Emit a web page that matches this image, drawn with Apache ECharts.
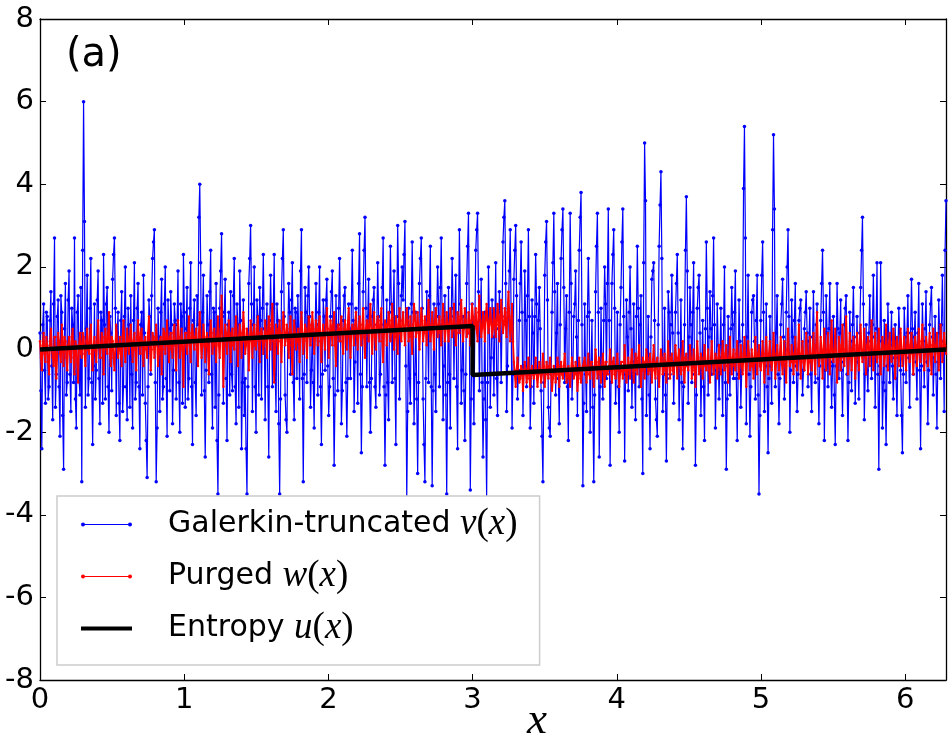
<!DOCTYPE html>
<html><head><meta charset="utf-8">
<script src="https://cdn.jsdelivr.net/npm/echarts/dist/echarts.min.js"></script>
<style>html,body{margin:0;padding:0;background:#fff}#c{width:951px;height:738px}</style>
</head><body><div id="c"></div>
<script>
const X_MAX = 6.2832;
const xTicks = [0, 1, 2, 3, 4, 5, 6];
const yTicks = [-8, -6, -4, -2, 0, 2, 4, 6, 8];

// Galerkin-truncated v(x) on an even grid over [0, 2pi]
const galerkinV = [
 0.4,-2.4,1.1,-1.3,0.8,-0.9,1.4,-1.7,2.7,-0.6,1.2,-2.1,0.9,-2.9,1.6,-0.8,1.9,-1.5,0.6,2.7,-1.9,1.3,-1.1,-3.2,6.0,
 -1.4,1.8,-0.7,2.2,-2.3,1.1,-0.5,1.9,-1.8,0.7,2.3,-1.2,1.5,-2.0,0.4,1.7,2.7,-1.6,0.9,-2.2,1.4,-0.9,2.0,-1.7,0.6,
 1.3,-1.9,2.1,-0.8,1.6,-2.4,0.9,1.8,-1.3,-3.1,1.2,-0.6,2.2,2.9,-3.2,1.0,-1.5,1.7,-0.9,2.0,-2.1,0.5,1.4,-1.8,1.1,
 -1.2,1.9,-2.0,0.8,2.3,-1.4,1.5,-0.7,2.1,-2.3,1.2,-1.6,0.6,4.0,-1.1,1.8,-2.6,1.3,-0.8,2.4,-1.9,0.9,1.6,-3.5,1.0,
 2.8,-1.3,1.7,-2.2,0.9,1.4,-1.0,2.2,-1.8,0.6,1.9,-2.4,1.2,-0.7,-3.5,1.6,3.0,-1.5,2.0,-2.0,0.8,1.5,-1.2,2.3,-1.7,
 1.1,-2.6,1.8,-0.9,2.3,-1.5,0.7,-3.5,1.4,2.9,-1.1,-2.0,1.6,-0.6,2.1,-1.7,0.9,1.3,-1.2,2.9,-3.2,1.5,-0.8,2.0,-1.4,
 0.6,-1.9,1.6,-1.1,2.0,-2.3,1.2,-0.5,1.7,-1.6,0.8,1.9,-2.8,1.3,-1.0,2.2,-1.8,0.7,1.5,-2.1,1.1,-0.7,2.4,-1.5,1.0,
 -1.3,2.8,-2.5,1.4,3.2,-0.9,1.7,-2.0,0.8,1.5,-1.4,2.1,-1.1,0.6,2.7,-2.8,1.2,-1.7,2.5,-0.8,1.9,-2.3,3.0,-1.2,1.3,
 1.2,3.1,-3.6,1.0,-1.3,2.6,-1.8,0.9,-3.0,1.6,2.7,-1.2,-3.2,1.4,-0.8,2.5,-3.3,1.1,-1.5,2.0,-0.9,2.7,-1.7,1.3,-3.5,
 1.5,-1.9,2.2,-0.7,1.8,-2.4,2.9,-1.3,0.8,-2.2,1.6,3.3,-3.4,1.1,-1.8,2.4,3.3,-1.0,1.7,-2.6,0.9,-3.6,2.0,-1.4,1.2,
 -1.1,2.1,-1.6,1.4,-0.8,2.6,3.6,-1.5,1.0,2.9,-1.9,1.7,3.0,-1.2,0.7,2.6,-1.6,1.9,-0.9,2.9,-1.9,1.2,-1.3,2.3,-0.6,
 1.5,-1.0,-3.2,1.8,3.1,-1.4,-2.1,0.9,3.3,-1.1,1.6,-1.8,2.2,3.4,-0.8,1.3,-2.2,3.3,-1.2,0.8,1.9,-1.6,2.4,3.8,-3.3,
 1.1,-1.5,2.2,-2.0,0.7,-3.2,1.4,3.3,-2.6,1.0,-1.2,2.0,-0.7,3.4,-2.8,1.6,2.9,-1.3,0.9,-2.0,1.5,3.4,-2.7,1.2,-1.0,
 2.0,-1.4,1.1,-1.7,2.5,-0.9,1.3,-3.0,5.0,-1.6,0.8,-2.4,1.7,2.1,-1.2,-2.1,2.5,4.3,-1.5,1.0,-2.7,1.4,-0.6,1.8,-1.3,
 0.9,2.3,-1.7,1.2,-2.4,0.6,3.7,-1.3,1.5,-0.8,2.1,-2.8,1.0,1.8,-1.6,0.7,-2.2,2.6,-1.1,1.4,-0.6,2.7,-1.9,1.1,-1.2,
 1.0,-1.6,2.0,-2.9,0.8,-1.1,1.5,-0.7,1.9,-2.2,1.2,-1.4,0.6,5.4,-1.8,1.8,-2.1,0.9,1.3,-1.2,1.8,-3.5,0.7,2.6,-1.5,
 1.1,-2.5,0.8,-1.3,5.2,-0.9,1.3,-1.8,0.6,1.7,-1.2,0.9,2.9,-2.0,1.2,-0.8,1.6,-1.5,0.7,1.2,-1.1,0.5,1.4,-0.9,1.0,
 -1.5,1.4,-0.8,1.1,-1.8,0.7,2.4,-2.2,1.3,-0.9,1.6,-1.4,0.8,-2.3,1.6,-0.7,1.2,-1.6,0.6,1.3,-2.2,0.9,-1.0,1.5,-1.3,
 0.8,-1.2,1.5,3.2,-1.7,0.6,-1.0,1.3,-0.7,1.8,-1.4,2.1,-2.9,2.1,-1.9,0.7,-2.3,1.1,-0.8,0.9,-1.2,0.6,-1.6,1.0,-0.5,
 -2.5,1.0,-0.8,1.3,-1.4,1.7,-0.6,0.9,-1.2,1.6,-2.4,1.1,-0.9,1.4,-1.8,0.6,1.5,-1.1,0.8,-1.9,1.2,-0.7,1.8,-1.5,3.6
];
// v(x) read at the half-steps between the samples above
const galerkinVMid = [
 -1.0,0.6,-0.5,0.9,-1.2,0.7,-0.4,1.1,-1.4,0.8,-0.9,1.3,-1.6,0.5,-1.1,1.2,-0.6,1.0,-0.8,-1.2,0.9,-0.7,1.5,2.4,3.1,
 0.5,-1.1,1.0,-0.8,-0.4,-1.2,1.2,-0.7,0.9,-1.3,0.6,1.1,-0.9,0.8,-1.0,2.3,1.0,0.4,-1.3,0.7,-1.5,0.8,-0.9,1.0,-1.4,
 -0.6,0.7,-1.2,1.0,-0.9,0.6,-1.1,0.4,-2.2,-0.9,0.8,1.3,2.6,-0.8,-1.9,0.3,0.9,-1.2,1.1,-0.7,1.2,-1.0,0.6,-0.5,0.7,
 0.6,-0.8,1.1,-1.3,0.9,0.5,-1.2,1.0,-0.9,0.7,-0.8,1.3,3.2,2.1,0.9,-1.0,-0.5,0.6,1.4,-0.6,1.0,-1.4,-2.2,-1.1,1.9,
 0.8,0.9,-0.7,0.6,-1.1,-0.6,1.3,-0.9,1.1,-1.4,0.7,-0.8,-1.6,-2.4,-0.9,2.2,1.1,0.6,-0.9,1.2,-1.1,0.7,1.0,0.5,0.4,
 -0.9,0.5,0.7,1.0,-0.6,1.1,-1.8,-1.2,2.2,0.8,-1.7,0.4,0.9,1.2,-0.8,1.0,-0.7,0.4,1.9,-0.7,-0.6,0.9,1.3,0.8,-0.5,
 -0.8,0.4,0.6,0.9,-0.9,-0.6,0.8,1.2,-0.4,-0.9,1.4,-0.7,-1.1,0.3,1.0,0.6,-1.0,1.3,-0.8,-0.7,0.5,1.1,0.7,-0.3,0.4,
 1.6,-0.6,-0.9,2.4,1.0,0.8,-0.8,-0.7,1.2,-0.9,0.6,0.8,-0.6,1.5,-0.9,-1.1,-0.8,0.9,1.1,1.0,-0.7,0.8,1.6,0.5,2.0,
 2.3,-0.4,-1.5,-0.7,1.1,0.9,-0.6,-1.2,-0.8,2.2,1.0,-2.3,-0.7,0.6,1.3,-0.9,-1.0,-0.6,0.8,1.1,1.5,0.6,-0.4,-1.1,-0.8,
 -0.6,0.8,1.0,0.9,-0.9,0.7,1.1,-0.5,-1.0,-0.6,2.5,0.4,-1.2,-0.5,0.6,2.9,1.4,0.7,-0.8,-1.2,-1.7,-0.8,0.7,-0.2,0.3,
 0.6,-0.7,0.5,0.9,0.8,3.2,1.6,-0.4,1.9,0.7,-0.6,2.4,1.3,-0.5,1.6,0.9,-0.4,0.7,1.3,0.8,-0.9,0.4,0.8,1.1,0.7,
 0.5,-2.1,-0.8,2.6,1.2,-1.9,-0.6,2.1,1.4,0.4,-0.7,0.6,2.9,1.5,0.5,-0.9,0.9,1.6,-0.5,1.1,0.3,0.7,3.2,0.6,-1.3,
 -0.6,0.8,0.9,-0.4,-1.4,-1.1,2.5,0.9,-0.9,-0.6,0.7,1.1,1.6,0.7,-0.8,2.3,1.0,-0.5,-0.9,0.6,2.6,0.8,-0.6,0.3,0.9,
 0.5,-0.3,-0.6,0.8,1.0,0.6,-1.2,2.1,3.6,-0.4,-1.1,0.3,1.9,0.7,-1.7,0.6,3.5,2.2,-0.6,-1.1,-0.7,0.9,0.6,0.4,-0.3,
 1.6,0.4,-0.5,-0.8,-0.9,2.4,1.9,0.3,0.6,0.9,-0.6,-1.1,1.5,0.4,-0.5,-0.9,0.5,1.0,0.3,0.5,1.3,0.6,-0.5,0.1,-0.2,
 -0.5,0.6,-0.8,-1.2,-0.3,0.5,0.6,0.9,-0.7,-0.6,0.2,-0.5,3.9,2.7,0.3,-0.6,-0.9,1.2,0.2,0.7,-1.1,-1.6,1.8,0.9,-0.4,
 -0.9,-0.7,-0.4,2.9,3.4,0.4,-0.6,-0.7,1.1,0.3,-0.4,2.0,0.8,-0.5,0.3,0.7,-0.4,-0.6,1.0,-0.2,-0.5,0.9,0.4,0.2,-0.6,
 0.3,-0.2,0.6,-0.7,-0.4,1.6,0.9,-0.5,0.4,0.5,-0.3,-0.4,-1.1,-0.4,0.5,0.4,-0.5,-0.3,1.0,-0.6,-0.8,0.2,0.6,0.3,-0.2,
 -0.3,0.4,2.4,1.1,-0.6,-0.5,0.4,0.2,0.6,0.3,0.5,-0.6,-0.4,0.2,-0.8,-1.0,-0.4,0.3,0.1,-0.4,-0.2,-0.7,-0.2,0.4,-1.6,
 -0.6,0.3,0.4,-0.2,0.4,0.5,0.3,-0.3,0.4,-0.5,-0.4,0.2,0.5,-0.3,-0.5,1.1,0.3,-0.2,-0.6,-0.3,0.4,0.6,0.2,2.4
];

// Purged w(x), same grid
const purgedW = [
 0.2,-0.5,0.4,-0.3,0.1,-0.6,0.5,-0.2,0.3,-0.7,0.4,-0.1,0.6,-0.4,0.2,-0.5,0.3,-0.3,0.5,-0.6,0.1,-0.8,0.4,-0.2,0.3,
 -0.4,0.5,-0.1,0.6,-0.5,0.3,-0.3,0.7,-0.2,0.4,-0.6,0.5,-0.1,0.9,-0.4,0.2,-0.5,0.6,-0.2,0.3,-0.4,0.7,-0.3,0.5,-0.1,
 0.6,-0.3,0.4,-0.5,0.7,-0.1,0.5,-0.4,0.3,-0.2,0.8,-0.5,0.4,-0.2,0.6,-0.4,0.2,-0.6,0.5,-0.1,0.7,-0.3,0.4,-0.2,0.6,
 -0.5,0.7,-0.2,0.5,-0.9,0.4,-0.1,0.8,-0.3,0.6,0.0,0.5,-0.4,0.9,-0.2,0.6,-0.3,0.4,-0.6,0.7,-0.1,0.5,-0.3,0.8,-0.2,
 1.3,-0.9,0.6,-0.1,0.7,-0.3,0.5,0.0,0.8,-0.4,0.6,-0.2,0.9,-0.1,0.5,-0.5,0.7,-0.2,0.6,0.0,0.8,-0.3,0.5,-0.1,0.7,
 -0.2,0.8,0.0,1.1,-0.8,0.6,-0.1,0.7,-0.3,0.9,0.1,0.6,-0.2,0.8,-0.6,0.7,0.0,0.5,-0.3,0.9,-0.1,0.6,-0.2,0.8,0.1,
 0.9,-0.1,0.7,0.1,0.8,-0.3,0.6,0.0,1.0,-0.2,0.7,0.1,0.9,-0.4,0.6,0.2,0.8,-0.1,0.7,0.0,1.0,-0.2,0.6,0.1,0.9,
 0.0,0.8,0.1,1.0,-0.2,0.7,0.2,1.1,-0.1,0.9,0.0,0.8,0.2,1.0,-0.3,0.7,0.1,0.9,0.2,1.1,0.0,0.8,-0.1,1.0,0.2,
 0.9,0.1,1.0,0.2,0.8,-0.1,1.1,0.3,0.9,0.0,1.0,0.2,0.8,0.1,1.2,0.2,0.9,0.0,1.0,0.3,0.8,0.1,1.1,0.2,0.9,
 0.2,1.0,0.3,1.1,0.1,0.9,0.4,1.2,0.2,1.0,0.3,0.9,0.1,1.1,0.4,1.0,0.2,1.3,0.3,0.9,0.2,1.1,0.4,1.0,0.3,
 1.0,0.3,1.1,0.2,1.2,0.4,1.0,0.3,1.4,0.2,1.1,-0.3,-0.9,-0.2,-0.8,-0.4,-1.0,-0.3,-0.8,-0.2,-0.9,-0.4,-0.7,-0.2,-0.9,
 -0.3,-0.8,-0.1,-0.9,-0.3,-0.7,-0.2,-1.0,-0.4,-0.8,-0.2,-0.9,-0.3,-0.7,-0.1,-0.8,-0.4,-0.9,-0.2,-0.7,-0.3,-1.0,-0.2,-0.8,-0.4,
 -0.2,-0.8,-0.1,-0.7,-0.3,-0.9,0.0,-0.7,-0.2,-0.8,-0.1,-0.9,-0.3,-0.6,0.0,-0.8,-0.2,-0.7,-0.1,-0.9,-0.3,-0.7,0.1,-0.8,-0.2,
 -0.7,0.0,-0.8,-0.1,-0.6,0.1,-0.9,-0.2,-0.7,0.0,-0.6,-0.1,-0.8,0.1,-0.7,-0.2,-0.9,0.0,-0.6,-0.1,-0.8,0.2,-0.7,-0.1,-0.6,
 0.1,-0.7,0.0,-0.6,0.2,-0.8,-0.1,-0.5,0.1,-0.7,0.0,-0.9,0.2,-0.6,-0.1,-0.7,0.1,-0.5,0.0,-0.8,0.2,-0.6,-0.1,-0.7,0.1,
 -0.6,0.2,-0.5,0.1,-0.8,0.3,-0.6,0.0,-0.5,0.2,-0.7,0.1,-0.6,0.3,-0.9,0.2,-0.5,0.0,-0.7,0.3,-0.6,0.1,-0.5,0.2,-0.8,
 0.3,-0.6,0.2,-0.5,0.4,-0.7,0.1,-0.5,0.3,-0.6,0.2,-0.8,0.5,-0.4,0.1,-0.6,0.3,-0.5,0.6,-0.7,0.2,-0.5,0.4,-0.6,0.3,
 -0.5,0.4,-0.6,0.9,-0.4,0.3,-0.7,0.5,-0.5,0.4,-0.6,0.7,-0.3,0.5,-0.8,0.3,-0.5,0.6,-0.4,0.8,-0.6,0.4,-0.5,0.3,-0.7,
 0.4,-0.5,0.6,-0.3,0.5,-0.6,0.3,-0.4,0.7,-0.5,0.4,-0.3,0.5,-0.6,0.3,-0.4,0.6,-0.5,0.4,-0.3,0.5,-0.7,0.3,-0.4,0.5,
 -0.4,0.3,-0.5,0.5,-0.3,0.4,-0.6,0.3,-0.4,0.5,-0.3,0.6,-0.5,0.3,-0.4,0.4,-0.6,0.5,-0.3,0.4,-0.5,0.6,-0.3,0.4,-0.1
];
// w(x) read at the half-steps
const purgedWMid = [
 -0.2,0.1,-0.1,0.3,-0.3,0.2,0.0,-0.4,0.3,-0.1,0.2,-0.3,0.1,0.3,-0.2,0.1,-0.1,0.3,-0.2,0.2,-0.3,0.1,-0.1,0.4,-0.1,
 0.2,0.0,0.3,-0.1,0.1,0.0,0.2,0.1,-0.2,0.3,0.0,0.2,0.4,-0.1,0.3,-0.2,0.1,0.2,0.0,-0.1,0.3,0.1,0.0,0.2,0.3,
 0.1,0.2,0.0,0.3,0.2,0.4,-0.1,0.2,0.0,0.4,0.1,0.0,0.3,0.1,0.2,-0.1,0.3,0.0,0.4,0.2,0.1,0.3,0.0,0.4,0.1,
 0.2,0.3,0.1,0.0,0.2,0.4,0.3,0.1,0.4,0.2,0.3,0.0,0.4,0.2,0.1,0.3,0.2,0.0,0.3,0.4,0.1,0.2,0.3,0.1,0.5,
 0.2,0.1,0.4,0.3,0.2,0.4,0.1,0.5,0.2,0.3,0.4,0.2,0.5,0.1,0.3,0.2,0.4,0.3,0.1,0.5,0.2,0.4,0.3,0.2,0.4,
 0.4,0.3,0.6,0.2,0.1,0.4,0.5,0.2,0.4,0.6,0.3,0.2,0.5,0.1,0.3,0.4,0.2,0.3,0.5,0.4,0.2,0.5,0.3,0.6,0.4,
 0.5,0.3,0.4,0.6,0.2,0.4,0.3,0.6,0.5,0.3,0.5,0.6,0.1,0.4,0.5,0.6,0.2,0.5,0.4,0.6,0.3,0.4,0.5,0.6,0.3,
 0.5,0.4,0.6,0.3,0.5,0.6,0.7,0.4,0.5,0.3,0.6,0.5,0.7,0.2,0.4,0.6,0.5,0.7,0.4,0.6,0.3,0.5,0.6,0.4,0.7,
 0.5,0.6,0.7,0.4,0.3,0.6,0.8,0.5,0.4,0.6,0.7,0.4,0.5,0.8,0.6,0.4,0.5,0.7,0.6,0.5,0.4,0.7,0.6,0.5,0.6,
 0.6,0.7,0.5,0.6,0.4,0.7,0.8,0.6,0.5,0.7,0.4,0.6,0.7,0.8,0.6,0.5,0.9,0.7,0.5,0.6,0.8,0.7,0.6,0.7,0.5,
 0.7,0.6,0.8,0.7,0.8,0.6,0.7,0.9,0.8,0.6,0.2,-0.6,-0.5,-0.6,-0.7,-0.5,-0.6,-0.5,-0.6,-0.7,-0.5,-0.6,-0.5,-0.6,-0.6,
 -0.5,-0.6,-0.4,-0.6,-0.5,-0.4,-0.6,-0.7,-0.5,-0.6,-0.4,-0.5,-0.6,-0.4,-0.5,-0.6,-0.7,-0.5,-0.4,-0.6,-0.5,-0.7,-0.5,-0.6,-0.4,
 -0.5,-0.4,-0.6,-0.3,-0.5,-0.4,-0.3,-0.5,-0.6,-0.4,-0.5,-0.3,-0.6,-0.4,-0.5,-0.3,-0.6,-0.4,-0.5,-0.6,-0.3,-0.5,-0.4,-0.6,-0.4,
 -0.3,-0.4,-0.5,-0.3,-0.2,-0.4,-0.5,-0.3,-0.4,-0.2,-0.5,-0.4,-0.3,-0.5,-0.3,-0.6,-0.4,-0.2,-0.4,-0.5,-0.3,-0.4,-0.2,-0.5,-0.3,
 -0.3,-0.2,-0.4,-0.3,-0.5,-0.2,-0.4,-0.3,-0.2,-0.4,-0.5,-0.3,-0.2,-0.4,-0.3,-0.2,-0.4,-0.3,-0.5,-0.2,-0.3,-0.4,-0.2,-0.3,-0.4,
 -0.2,-0.3,-0.1,-0.4,-0.2,-0.3,-0.2,-0.4,-0.1,-0.3,-0.2,-0.4,-0.1,-0.3,-0.2,-0.1,-0.4,-0.3,-0.2,-0.3,-0.1,-0.4,-0.2,-0.3,-0.1,
 -0.2,-0.1,-0.3,-0.2,-0.1,-0.3,-0.2,-0.1,-0.3,-0.2,-0.4,0.0,-0.1,-0.3,-0.2,-0.1,-0.3,0.0,-0.2,-0.1,-0.3,-0.2,-0.1,-0.3,-0.2,
 -0.1,-0.2,0.1,-0.1,-0.2,0.0,-0.1,-0.2,0.0,-0.1,0.1,-0.2,0.0,-0.1,-0.3,0.0,0.1,-0.2,0.0,-0.1,-0.2,0.0,-0.1,0.1,-0.2,
 0.0,0.1,-0.1,0.0,-0.2,0.1,0.0,0.2,-0.1,0.0,-0.1,0.1,-0.2,0.0,0.1,-0.1,0.0,0.1,-0.1,0.0,0.2,-0.1,0.0,0.1,-0.1,
 0.0,-0.1,0.1,0.0,0.1,-0.1,0.0,0.1,0.0,-0.1,0.2,0.0,-0.1,0.1,0.0,-0.1,0.1,0.0,0.1,-0.1,0.0,0.2,0.0,0.1
];

// Entropy solution u(x): a ramp with a shock near x = 3
const entropyX = [0, 3.0, 3.0, 6.2832];
const entropyU = [0, 0.57, -0.62, 0];

// place samples on the grid, half-step readings between them
function onGrid(vals, mids) {
  const n = vals.length, step = X_MAX / (n - 1), out = [];
  for (let i = 0; i < n; i++) {
    out.push([i * step, vals[i]]);
    if (i < n - 1 && i < mids.length) out.push([(i + 0.5) * step, mids[i]]);
  }
  return out;
}

const dotLine = 'path://M0,2A2,2,0,1,1,4,2A2,2,0,1,1,0,2Z M2,1.5H49V2.5H2Z M47,2A2,2,0,1,1,51,2A2,2,0,1,1,47,2Z';
const legendText = {
  'Galerkin-truncated': 'Galerkin-truncated {m|v}{p|(}{m|x}{p|)}',
  'Purged': 'Purged {m|w}{p|(}{m|x}{p|)}',
  'Entropy': 'Entropy {m|u}{p|(}{m|x}{p|)}'
};

const chart = echarts.init(document.getElementById('c'));
const axisLine = { show: true, onZero: false, lineStyle: { color: '#000', width: 1.3 } };
const tick = { show: true, inside: true, length: 6, lineStyle: { color: '#000', width: 1 } };
chart.setOption({
  animation: false,
  backgroundColor: '#fff',
  grid: { left: 40, right: 5, top: 19, bottom: 58, containLabel: false, outerBoundsMode: 'none' },
  xAxis: [{
    type: 'value', min: 0, max: X_MAX, interval: 1, position: 'bottom',
    axisLine, axisTick: tick, splitLine: { show: false },
    axisLabel: { show: true, margin: 6, color: '#000', fontFamily: 'DejaVu Sans', fontSize: 29,
      showMaxLabel: false,
      formatter: v => (xTicks.indexOf(Math.round(v)) >= 0 && Math.abs(v - Math.round(v)) < 1e-6) ? String(Math.round(v)) : '' }
  }, {
    type: 'value', min: 0, max: X_MAX, interval: 1, position: 'top',
    axisLine, axisTick: tick, axisLabel: { show: false }, splitLine: { show: false }
  }],
  yAxis: [{
    type: 'value', min: yTicks[0], max: yTicks[yTicks.length - 1], interval: 2, position: 'left',
    axisLine, axisTick: tick, splitLine: { show: false },
    axisLabel: { margin: 6, color: '#000', fontFamily: 'DejaVu Sans', fontSize: 29 }
  }, {
    type: 'value', min: yTicks[0], max: yTicks[yTicks.length - 1], interval: 2, position: 'right',
    axisLine, axisTick: tick, axisLabel: { show: false }, splitLine: { show: false }
  }],
  legend: {
    orient: 'vertical', left: 57, top: 496,
    backgroundColor: '#fff', borderColor: '#cccccc', borderWidth: 1.5, borderRadius: 0,
    padding: [10, 22, 18, 24],
    itemWidth: 51, itemHeight: 4, itemGap: 15,
    data: [
      { name: 'Galerkin-truncated', icon: dotLine },
      { name: 'Purged', icon: dotLine },
      { name: 'Entropy', icon: 'rect' }
    ],
    formatter: name => legendText[name],
    textStyle: {
      fontFamily: 'DejaVu Sans', fontSize: 30, color: '#000', lineHeight: 33, padding: [0, 0, 0, 31],
      rich: {
        m: { fontFamily: 'Liberation Serif', fontStyle: 'italic', fontSize: 37, lineHeight: 33 },
        p: { fontFamily: 'Liberation Serif', fontSize: 37, lineHeight: 33 }
      }
    }
  },
  graphic: [{
    type: 'text', left: 66, top: 36, z: 10,
    style: { text: '(a)', fontFamily: 'DejaVu Sans', fontSize: 40, fill: '#000' }
  }, {
    type: 'text', x: 537, y: 721, z: 10,
    style: { text: 'x', fontFamily: 'Liberation Serif', fontStyle: 'italic', fontSize: 45, fill: '#000',
      align: 'center', verticalAlign: 'middle' }
  }],
  series: [{
    name: 'Galerkin-truncated', type: 'line', data: onGrid(galerkinV, galerkinVMid),
    xAxisIndex: 0, yAxisIndex: 0, z: 2,
    showSymbol: true, symbol: 'circle', symbolSize: 3.5,
    lineStyle: { color: '#0000ff', width: 1.2 }, itemStyle: { color: '#0000ff' }
  }, {
    name: 'Purged', type: 'line', data: onGrid(purgedW, purgedWMid),
    xAxisIndex: 0, yAxisIndex: 0, z: 3,
    showSymbol: true, symbol: 'circle', symbolSize: 2.5,
    lineStyle: { color: '#ff0000', width: 1.8 }, itemStyle: { color: '#ff0000' }
  }, {
    name: 'Entropy', type: 'line', data: entropyX.map((x, i) => [x, entropyU[i]]),
    xAxisIndex: 0, yAxisIndex: 0, z: 4,
    showSymbol: false,
    lineStyle: { color: '#000', width: 4.5 }, itemStyle: { color: '#000' }
  }]
});
</script>
</body></html>
